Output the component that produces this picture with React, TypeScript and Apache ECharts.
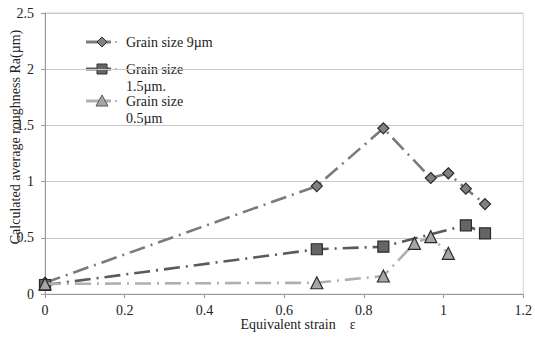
import React, { useEffect, useRef } from "react";
import * as echarts from "echarts";

const seriesNames = ["Grain size 9µm", "Grain size\n1.5µm.", "Grain size\n0.5µm"];
const strain9 = [0, 0.682, 0.849, 0.968, 1.012, 1.056, 1.104];
const ra9 = [0.1, 0.96, 1.474, 1.032, 1.074, 0.937, 0.8];
const strain15 = [0, 0.682, 0.849, 1.056, 1.104];
const ra15 = [0.08, 0.398, 0.421, 0.611, 0.54];
const strain05 = [0, 0.682, 0.849, 0.927, 0.968, 1.012];
const ra05 = [0.09, 0.1, 0.16, 0.451, 0.51, 0.362];
const xTicks = [0, 0.2, 0.4, 0.6, 0.8, 1, 1.2];
const yTicks = [0, 0.5, 1, 1.5, 2, 2.5];

const FONT = "Liberation Serif";
const lineColors = ["#7a7a7a", "#5a5a5a", "#b0b0b0"];
const fillColors = ["#808080", "#656565", "#a6a6a6"];
const symbols = ["diamond", "rect", "triangle"];
const symbolSizes = [11, 11, 12];
const dash = [16, 6, 2, 6];

export default function App() {
  const ref = useRef<HTMLDivElement>(null);
  useEffect(() => {
    if (!ref.current) return;
    const chart = echarts.init(ref.current, undefined, { renderer: "svg" });
    const sets = [
      strain9.map((x, i) => [x, ra9[i]]),
      strain15.map((x, i) => [x, ra15[i]]),
      strain05.map((x, i) => [x, ra05[i]]),
    ];
    const legendY = [42, 69, 101];
    const legendGraphics: any[] = [];
    seriesNames.forEach((name, i) => {
      const y = legendY[i];
      legendGraphics.push({
        type: "line",
        shape: { x1: 86, y1: y, x2: 111, y2: y },
        style: { stroke: lineColors[i], lineWidth: 3 },
      });
      const cx = 102;
      if (i === 0) {
        legendGraphics.push({
          type: "polygon",
          shape: { points: [[cx, y - 5], [cx + 5, y], [cx, y + 5], [cx - 5, y]] },
          style: { fill: fillColors[0], stroke: "#333", lineWidth: 1 },
        });
      } else if (i === 1) {
        legendGraphics.push({
          type: "rect",
          shape: { x: cx - 5, y: y - 5, width: 10, height: 10 },
          style: { fill: fillColors[1], stroke: "#333", lineWidth: 1 },
        });
      } else {
        legendGraphics.push({
          type: "polygon",
          shape: { points: [[cx, y - 6], [cx + 6, y + 5], [cx - 6, y + 5]] },
          style: { fill: fillColors[2], stroke: "#555", lineWidth: 1 },
        });
      }
      legendGraphics.push({
        type: "circle",
        shape: { cx: 116, cy: y, r: 0.8 },
        style: { fill: "#888" },
      });
      legendGraphics.push({
        type: "text",
        x: 126,
        y: y - 8,
        style: {
          text: name,
          fontFamily: FONT,
          fontSize: 14,
          fill: "#222",
          lineHeight: 17,
          verticalAlign: "top",
        },
      });
    });

    chart.setOption({
      animation: false,
      textStyle: { fontFamily: FONT },
      grid: {
        left: 45,
        right: 11,
        top: 13,
        bottom: 53,
        show: true,
        borderColor: "#d4d4d4",
        borderWidth: 1,
      },
      xAxis: {
        type: "value",
        min: 0,
        max: 1.2,
        interval: 0.2,
        axisLine: { show: true, lineStyle: { color: "#9a9a9a", width: 1 } },
        axisTick: { show: true, length: 4, lineStyle: { color: "#9a9a9a" } },
        splitLine: { show: false },
        axisLabel: {
          color: "#222",
          fontFamily: FONT,
          fontSize: 14,
          margin: 9,
          formatter: (v: number) => {
            const t = xTicks.find((k) => Math.abs(k - v) < 1e-6);
            return t === undefined ? "" : String(t);
          },
        },
      },
      yAxis: {
        type: "value",
        min: 0,
        max: 2.5,
        interval: 0.5,
        axisLine: { show: true, lineStyle: { color: "#9a9a9a", width: 1 } },
        axisTick: { show: true, length: 4, lineStyle: { color: "#9a9a9a" } },
        splitLine: { show: true, lineStyle: { color: "#c8c8c8", width: 1 } },
        axisLabel: {
          color: "#222",
          fontFamily: FONT,
          fontSize: 14,
          margin: 11,
          formatter: (v: number) => {
            const t = yTicks.find((k) => Math.abs(k - v) < 1e-6);
            return t === undefined ? "" : String(t);
          },
        },
      },
      series: sets.map((data, i) => ({
        type: "line",
        name: seriesNames[i],
        data,
        symbol: symbols[i],
        symbolSize: symbolSizes[i],
        showAllSymbol: true,
        lineStyle: { color: lineColors[i], width: 2.6, type: dash },
        itemStyle: {
          color: fillColors[i],
          borderColor: "#2a2a2a",
          borderWidth: 1.2,
        },
        z: 2 + i,
      })),
      graphic: [
        ...legendGraphics,
        {
          type: "text",
          x: 15,
          y: 137,
          rotation: Math.PI / 2,
          style: {
            text: "Calculated average roughness Ra(µm)",
            fontFamily: FONT,
            fontSize: 14,
            fill: "#222",
            align: "center",
            verticalAlign: "middle",
          },
        },
        {
          type: "text",
          x: 298,
          y: 324,
          style: {
            text: "Equivalent strain    ε",
            fontFamily: FONT,
            fontSize: 14,
            fill: "#222",
            align: "center",
            verticalAlign: "middle",
          },
        },
      ],
    });
    return () => chart.dispose();
  }, []);
  return (
    <div
      ref={ref}
      style={{ width: 535, height: 347, position: "absolute", left: 0, top: 0 }}
    />
  );
}
